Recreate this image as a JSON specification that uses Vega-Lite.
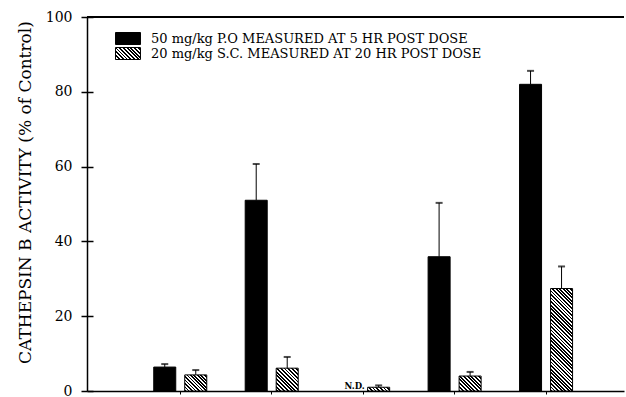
{
  "$schema": "https://vega.github.io/schema/vega-lite/v6.json",
  "width": 537,
  "height": 374,
  "autosize": {"type": "none"},
  "padding": {"left": 87, "top": 17, "right": 2, "bottom": 6},
  "config": {
    "view": {"stroke": null},
    "font": "DejaVu Serif"
  },
  "data": {
    "values": [
      {"group": "1", "route": "P.O", "series": "50 mg/kg P.O MEASURED AT 5 HR POST DOSE", "value": 6.4, "upper": 7.2},
      {"group": "1", "route": "S.C.", "series": "20 mg/kg S.C. MEASURED AT 20 HR POST DOSE", "value": 4.3, "upper": 5.6},
      {"group": "2", "route": "P.O", "series": "50 mg/kg P.O MEASURED AT 5 HR POST DOSE", "value": 51.0, "upper": 60.7},
      {"group": "2", "route": "S.C.", "series": "20 mg/kg S.C. MEASURED AT 20 HR POST DOSE", "value": 6.1, "upper": 9.1},
      {"group": "3", "route": "P.O", "series": "50 mg/kg P.O MEASURED AT 5 HR POST DOSE", "value": null, "upper": null, "note": "N.D."},
      {"group": "3", "route": "S.C.", "series": "20 mg/kg S.C. MEASURED AT 20 HR POST DOSE", "value": 1.0, "upper": 1.5},
      {"group": "4", "route": "P.O", "series": "50 mg/kg P.O MEASURED AT 5 HR POST DOSE", "value": 35.9, "upper": 50.3},
      {"group": "4", "route": "S.C.", "series": "20 mg/kg S.C. MEASURED AT 20 HR POST DOSE", "value": 4.0, "upper": 5.1},
      {"group": "5", "route": "P.O", "series": "50 mg/kg P.O MEASURED AT 5 HR POST DOSE", "value": 82.0, "upper": 85.6},
      {"group": "5", "route": "S.C.", "series": "20 mg/kg S.C. MEASURED AT 20 HR POST DOSE", "value": 27.4, "upper": 33.3}
    ]
  },
  "encoding": {
    "x": {
      "field": "group",
      "type": "nominal",
      "scale": {"domain": ["1", "2", "3", "4", "5"], "paddingInner": 0, "paddingOuter": 0.436, "align": 0.596},
      "axis": {"title": null, "labels": false, "tickSize": 3, "tickColor": "#000", "tickWidth": 1, "domainColor": "#000", "domainWidth": 1.5}
    },
    "xOffset": {
      "field": "series",
      "type": "nominal",
      "scale": {"domain": ["50 mg/kg P.O MEASURED AT 5 HR POST DOSE", "20 mg/kg S.C. MEASURED AT 20 HR POST DOSE"], "paddingInner": 0.29, "paddingOuter": 0.62}
    }
  },
  "layer": [
    {
      "mark": {"type": "rule", "color": "#000", "strokeWidth": 1.5},
      "encoding": {"x": null, "xOffset": null, "y": {"datum": 100, "type": "quantitative", "axis": null}}
    },
    {
      "mark": {"type": "bar", "stroke": "#000", "strokeWidth": 1},
      "encoding": {
        "y": {
          "field": "value",
          "type": "quantitative",
          "scale": {"domain": [0, 100], "nice": false},
          "axis": {
            "orient": "left",
            "values": [0, 20, 40, 60, 80, 100],
            "grid": false,
            "tickSize": 6,
            "tickWidth": 1.5,
            "tickColor": "#000",
            "domainColor": "#000",
            "domainWidth": 1.5,
            "labelFont": "DejaVu Serif",
            "labelFontSize": 14,
            "labelColor": "#000",
            "labelPadding": 9,
            "title": "CATHEPSIN B ACTIVITY (% of Control)",
            "titleFont": "DejaVu Serif",
            "titleFontSize": 17,
            "titleFontWeight": "normal",
            "titleColor": "#000",
            "titlePadding": 11,
            "titleY": 175
          }
        },
        "fill": {
          "field": "series",
          "type": "nominal",
          "scale": {
            "domain": ["50 mg/kg P.O MEASURED AT 5 HR POST DOSE", "20 mg/kg S.C. MEASURED AT 20 HR POST DOSE"],
            "range": [
              "#000",
              {"expr": "{gradient: 'linear', x1: 0, y1: 1, x2: 1.2029, y2: 0.4226, stops: [{offset: 0.05, color: '#000'}, {offset: 0.05, color: '#fff'}, {offset: 0.1, color: '#fff'}, {offset: 0.1, color: '#000'}, {offset: 0.15, color: '#000'}, {offset: 0.15, color: '#fff'}, {offset: 0.2, color: '#fff'}, {offset: 0.2, color: '#000'}, {offset: 0.25, color: '#000'}, {offset: 0.25, color: '#fff'}, {offset: 0.3, color: '#fff'}, {offset: 0.3, color: '#000'}, {offset: 0.35, color: '#000'}, {offset: 0.35, color: '#fff'}, {offset: 0.4, color: '#fff'}, {offset: 0.4, color: '#000'}, {offset: 0.45, color: '#000'}, {offset: 0.45, color: '#fff'}, {offset: 0.5, color: '#fff'}, {offset: 0.5, color: '#000'}, {offset: 0.55, color: '#000'}, {offset: 0.55, color: '#fff'}, {offset: 0.6, color: '#fff'}, {offset: 0.6, color: '#000'}, {offset: 0.65, color: '#000'}, {offset: 0.65, color: '#fff'}, {offset: 0.7, color: '#fff'}, {offset: 0.7, color: '#000'}, {offset: 0.75, color: '#000'}, {offset: 0.75, color: '#fff'}, {offset: 0.8, color: '#fff'}, {offset: 0.8, color: '#000'}, {offset: 0.85, color: '#000'}, {offset: 0.85, color: '#fff'}, {offset: 0.9, color: '#fff'}, {offset: 0.9, color: '#000'}, {offset: 0.95, color: '#000'}, {offset: 0.95, color: '#fff'}]}"}
            ]
          },
          "legend": {
            "title": null,
            "orient": "none",
            "legendX": 34.5,
            "legendY": 15,
            "padding": 0,
            "rowPadding": -4,
            "labelFont": "DejaVu Serif",
            "labelFontSize": 13,
            "labelColor": "#000",
            "labelOffset": 16.5,
            "labelLimit": 500,
            "symbolType": "M-2.08,-1H2.08V1H-2.08Z",
            "symbolSize": 144,
            "symbolStrokeWidth": 1,
            "symbolStrokeColor": "#000"
          },
          "condition": [
            {"test": "datum.route === 'S.C.' && datum.group === '1'", "value": {"gradient": "linear", "x1": 0, "y1": 1, "x2": 1.1282, "y2": 0.1754, "stops": [
              {"offset": 0.0455, "color": "#000"}, {"offset": 0.0455, "color": "#fff"},
              {"offset": 0.0909, "color": "#fff"}, {"offset": 0.0909, "color": "#000"},
              {"offset": 0.1364, "color": "#000"}, {"offset": 0.1364, "color": "#fff"},
              {"offset": 0.1818, "color": "#fff"}, {"offset": 0.1818, "color": "#000"},
              {"offset": 0.2273, "color": "#000"}, {"offset": 0.2273, "color": "#fff"},
              {"offset": 0.2727, "color": "#fff"}, {"offset": 0.2727, "color": "#000"},
              {"offset": 0.3182, "color": "#000"}, {"offset": 0.3182, "color": "#fff"},
              {"offset": 0.3636, "color": "#fff"}, {"offset": 0.3636, "color": "#000"},
              {"offset": 0.4091, "color": "#000"}, {"offset": 0.4091, "color": "#fff"},
              {"offset": 0.4545, "color": "#fff"}, {"offset": 0.4545, "color": "#000"},
              {"offset": 0.5, "color": "#000"}, {"offset": 0.5, "color": "#fff"},
              {"offset": 0.5455, "color": "#fff"}, {"offset": 0.5455, "color": "#000"},
              {"offset": 0.5909, "color": "#000"}, {"offset": 0.5909, "color": "#fff"},
              {"offset": 0.6364, "color": "#fff"}, {"offset": 0.6364, "color": "#000"},
              {"offset": 0.6818, "color": "#000"}, {"offset": 0.6818, "color": "#fff"},
              {"offset": 0.7273, "color": "#fff"}, {"offset": 0.7273, "color": "#000"},
              {"offset": 0.7727, "color": "#000"}, {"offset": 0.7727, "color": "#fff"},
              {"offset": 0.8182, "color": "#fff"}, {"offset": 0.8182, "color": "#000"},
              {"offset": 0.8636, "color": "#000"}, {"offset": 0.8636, "color": "#fff"},
              {"offset": 0.9091, "color": "#fff"}, {"offset": 0.9091, "color": "#000"},
              {"offset": 0.9545, "color": "#000"}, {"offset": 0.9545, "color": "#fff"}
            ]}},
            {"test": "datum.route === 'S.C.' && datum.group === '2'", "value": {"gradient": "linear", "x1": 0, "y1": 1, "x2": 0.9816, "y2": -0.0177, "stops": [
              {"offset": 0.0417, "color": "#000"}, {"offset": 0.0417, "color": "#fff"},
              {"offset": 0.0833, "color": "#fff"}, {"offset": 0.0833, "color": "#000"},
              {"offset": 0.125, "color": "#000"}, {"offset": 0.125, "color": "#fff"},
              {"offset": 0.1667, "color": "#fff"}, {"offset": 0.1667, "color": "#000"},
              {"offset": 0.2083, "color": "#000"}, {"offset": 0.2083, "color": "#fff"},
              {"offset": 0.25, "color": "#fff"}, {"offset": 0.25, "color": "#000"},
              {"offset": 0.2917, "color": "#000"}, {"offset": 0.2917, "color": "#fff"},
              {"offset": 0.3333, "color": "#fff"}, {"offset": 0.3333, "color": "#000"},
              {"offset": 0.375, "color": "#000"}, {"offset": 0.375, "color": "#fff"},
              {"offset": 0.4167, "color": "#fff"}, {"offset": 0.4167, "color": "#000"},
              {"offset": 0.4583, "color": "#000"}, {"offset": 0.4583, "color": "#fff"},
              {"offset": 0.5, "color": "#fff"}, {"offset": 0.5, "color": "#000"},
              {"offset": 0.5417, "color": "#000"}, {"offset": 0.5417, "color": "#fff"},
              {"offset": 0.5833, "color": "#fff"}, {"offset": 0.5833, "color": "#000"},
              {"offset": 0.625, "color": "#000"}, {"offset": 0.625, "color": "#fff"},
              {"offset": 0.6667, "color": "#fff"}, {"offset": 0.6667, "color": "#000"},
              {"offset": 0.7083, "color": "#000"}, {"offset": 0.7083, "color": "#fff"},
              {"offset": 0.75, "color": "#fff"}, {"offset": 0.75, "color": "#000"},
              {"offset": 0.7917, "color": "#000"}, {"offset": 0.7917, "color": "#fff"},
              {"offset": 0.8333, "color": "#fff"}, {"offset": 0.8333, "color": "#000"},
              {"offset": 0.875, "color": "#000"}, {"offset": 0.875, "color": "#fff"},
              {"offset": 0.9167, "color": "#fff"}, {"offset": 0.9167, "color": "#000"},
              {"offset": 0.9583, "color": "#000"}, {"offset": 0.9583, "color": "#fff"}
            ]}},
            {"test": "datum.route === 'S.C.' && datum.group === '3'", "value": {"gradient": "linear", "x1": 0, "y1": 1, "x2": 1.1371, "y2": 0.8067, "stops": [
              {"offset": 0.0714, "color": "#000"}, {"offset": 0.0714, "color": "#fff"},
              {"offset": 0.1429, "color": "#fff"}, {"offset": 0.1429, "color": "#000"},
              {"offset": 0.2143, "color": "#000"}, {"offset": 0.2143, "color": "#fff"},
              {"offset": 0.2857, "color": "#fff"}, {"offset": 0.2857, "color": "#000"},
              {"offset": 0.3571, "color": "#000"}, {"offset": 0.3571, "color": "#fff"},
              {"offset": 0.4286, "color": "#fff"}, {"offset": 0.4286, "color": "#000"},
              {"offset": 0.5, "color": "#000"}, {"offset": 0.5, "color": "#fff"},
              {"offset": 0.5714, "color": "#fff"}, {"offset": 0.5714, "color": "#000"},
              {"offset": 0.6429, "color": "#000"}, {"offset": 0.6429, "color": "#fff"},
              {"offset": 0.7143, "color": "#fff"}, {"offset": 0.7143, "color": "#000"},
              {"offset": 0.7857, "color": "#000"}, {"offset": 0.7857, "color": "#fff"},
              {"offset": 0.8571, "color": "#fff"}, {"offset": 0.8571, "color": "#000"},
              {"offset": 0.9286, "color": "#000"}, {"offset": 0.9286, "color": "#fff"}
            ]}},
            {"test": "datum.route === 'S.C.' && datum.group === '4'", "value": {"gradient": "linear", "x1": 0, "y1": 1, "x2": 1.1488, "y2": 0.2188, "stops": [
              {"offset": 0.05, "color": "#000"}, {"offset": 0.05, "color": "#fff"},
              {"offset": 0.1, "color": "#fff"}, {"offset": 0.1, "color": "#000"},
              {"offset": 0.15, "color": "#000"}, {"offset": 0.15, "color": "#fff"},
              {"offset": 0.2, "color": "#fff"}, {"offset": 0.2, "color": "#000"},
              {"offset": 0.25, "color": "#000"}, {"offset": 0.25, "color": "#fff"},
              {"offset": 0.3, "color": "#fff"}, {"offset": 0.3, "color": "#000"},
              {"offset": 0.35, "color": "#000"}, {"offset": 0.35, "color": "#fff"},
              {"offset": 0.4, "color": "#fff"}, {"offset": 0.4, "color": "#000"},
              {"offset": 0.45, "color": "#000"}, {"offset": 0.45, "color": "#fff"},
              {"offset": 0.5, "color": "#fff"}, {"offset": 0.5, "color": "#000"},
              {"offset": 0.55, "color": "#000"}, {"offset": 0.55, "color": "#fff"},
              {"offset": 0.6, "color": "#fff"}, {"offset": 0.6, "color": "#000"},
              {"offset": 0.65, "color": "#000"}, {"offset": 0.65, "color": "#fff"},
              {"offset": 0.7, "color": "#fff"}, {"offset": 0.7, "color": "#000"},
              {"offset": 0.75, "color": "#000"}, {"offset": 0.75, "color": "#fff"},
              {"offset": 0.8, "color": "#fff"}, {"offset": 0.8, "color": "#000"},
              {"offset": 0.85, "color": "#000"}, {"offset": 0.85, "color": "#fff"},
              {"offset": 0.9, "color": "#fff"}, {"offset": 0.9, "color": "#000"},
              {"offset": 0.95, "color": "#000"}, {"offset": 0.95, "color": "#fff"}
            ]}},
            {"test": "datum.route === 'S.C.' && datum.group === '5'", "value": {"gradient": "linear", "x1": 0, "y1": 1, "x2": 0.2493, "y2": -0.1612, "stops": [
              {"offset": 0.0143, "color": "#000"}, {"offset": 0.0143, "color": "#fff"},
              {"offset": 0.0286, "color": "#fff"}, {"offset": 0.0286, "color": "#000"},
              {"offset": 0.0429, "color": "#000"}, {"offset": 0.0429, "color": "#fff"},
              {"offset": 0.0571, "color": "#fff"}, {"offset": 0.0571, "color": "#000"},
              {"offset": 0.0714, "color": "#000"}, {"offset": 0.0714, "color": "#fff"},
              {"offset": 0.0857, "color": "#fff"}, {"offset": 0.0857, "color": "#000"},
              {"offset": 0.1, "color": "#000"}, {"offset": 0.1, "color": "#fff"},
              {"offset": 0.1143, "color": "#fff"}, {"offset": 0.1143, "color": "#000"},
              {"offset": 0.1286, "color": "#000"}, {"offset": 0.1286, "color": "#fff"},
              {"offset": 0.1429, "color": "#fff"}, {"offset": 0.1429, "color": "#000"},
              {"offset": 0.1571, "color": "#000"}, {"offset": 0.1571, "color": "#fff"},
              {"offset": 0.1714, "color": "#fff"}, {"offset": 0.1714, "color": "#000"},
              {"offset": 0.1857, "color": "#000"}, {"offset": 0.1857, "color": "#fff"},
              {"offset": 0.2, "color": "#fff"}, {"offset": 0.2, "color": "#000"},
              {"offset": 0.2143, "color": "#000"}, {"offset": 0.2143, "color": "#fff"},
              {"offset": 0.2286, "color": "#fff"}, {"offset": 0.2286, "color": "#000"},
              {"offset": 0.2429, "color": "#000"}, {"offset": 0.2429, "color": "#fff"},
              {"offset": 0.2571, "color": "#fff"}, {"offset": 0.2571, "color": "#000"},
              {"offset": 0.2714, "color": "#000"}, {"offset": 0.2714, "color": "#fff"},
              {"offset": 0.2857, "color": "#fff"}, {"offset": 0.2857, "color": "#000"},
              {"offset": 0.3, "color": "#000"}, {"offset": 0.3, "color": "#fff"},
              {"offset": 0.3143, "color": "#fff"}, {"offset": 0.3143, "color": "#000"},
              {"offset": 0.3286, "color": "#000"}, {"offset": 0.3286, "color": "#fff"},
              {"offset": 0.3429, "color": "#fff"}, {"offset": 0.3429, "color": "#000"},
              {"offset": 0.3571, "color": "#000"}, {"offset": 0.3571, "color": "#fff"},
              {"offset": 0.3714, "color": "#fff"}, {"offset": 0.3714, "color": "#000"},
              {"offset": 0.3857, "color": "#000"}, {"offset": 0.3857, "color": "#fff"},
              {"offset": 0.4, "color": "#fff"}, {"offset": 0.4, "color": "#000"},
              {"offset": 0.4143, "color": "#000"}, {"offset": 0.4143, "color": "#fff"},
              {"offset": 0.4286, "color": "#fff"}, {"offset": 0.4286, "color": "#000"},
              {"offset": 0.4429, "color": "#000"}, {"offset": 0.4429, "color": "#fff"},
              {"offset": 0.4571, "color": "#fff"}, {"offset": 0.4571, "color": "#000"},
              {"offset": 0.4714, "color": "#000"}, {"offset": 0.4714, "color": "#fff"},
              {"offset": 0.4857, "color": "#fff"}, {"offset": 0.4857, "color": "#000"},
              {"offset": 0.5, "color": "#000"}, {"offset": 0.5, "color": "#fff"},
              {"offset": 0.5143, "color": "#fff"}, {"offset": 0.5143, "color": "#000"},
              {"offset": 0.5286, "color": "#000"}, {"offset": 0.5286, "color": "#fff"},
              {"offset": 0.5429, "color": "#fff"}, {"offset": 0.5429, "color": "#000"},
              {"offset": 0.5571, "color": "#000"}, {"offset": 0.5571, "color": "#fff"},
              {"offset": 0.5714, "color": "#fff"}, {"offset": 0.5714, "color": "#000"},
              {"offset": 0.5857, "color": "#000"}, {"offset": 0.5857, "color": "#fff"},
              {"offset": 0.6, "color": "#fff"}, {"offset": 0.6, "color": "#000"},
              {"offset": 0.6143, "color": "#000"}, {"offset": 0.6143, "color": "#fff"},
              {"offset": 0.6286, "color": "#fff"}, {"offset": 0.6286, "color": "#000"},
              {"offset": 0.6429, "color": "#000"}, {"offset": 0.6429, "color": "#fff"},
              {"offset": 0.6571, "color": "#fff"}, {"offset": 0.6571, "color": "#000"},
              {"offset": 0.6714, "color": "#000"}, {"offset": 0.6714, "color": "#fff"},
              {"offset": 0.6857, "color": "#fff"}, {"offset": 0.6857, "color": "#000"},
              {"offset": 0.7, "color": "#000"}, {"offset": 0.7, "color": "#fff"},
              {"offset": 0.7143, "color": "#fff"}, {"offset": 0.7143, "color": "#000"},
              {"offset": 0.7286, "color": "#000"}, {"offset": 0.7286, "color": "#fff"},
              {"offset": 0.7429, "color": "#fff"}, {"offset": 0.7429, "color": "#000"},
              {"offset": 0.7571, "color": "#000"}, {"offset": 0.7571, "color": "#fff"},
              {"offset": 0.7714, "color": "#fff"}, {"offset": 0.7714, "color": "#000"},
              {"offset": 0.7857, "color": "#000"}, {"offset": 0.7857, "color": "#fff"},
              {"offset": 0.8, "color": "#fff"}, {"offset": 0.8, "color": "#000"},
              {"offset": 0.8143, "color": "#000"}, {"offset": 0.8143, "color": "#fff"},
              {"offset": 0.8286, "color": "#fff"}, {"offset": 0.8286, "color": "#000"},
              {"offset": 0.8429, "color": "#000"}, {"offset": 0.8429, "color": "#fff"},
              {"offset": 0.8571, "color": "#fff"}, {"offset": 0.8571, "color": "#000"},
              {"offset": 0.8714, "color": "#000"}, {"offset": 0.8714, "color": "#fff"},
              {"offset": 0.8857, "color": "#fff"}, {"offset": 0.8857, "color": "#000"},
              {"offset": 0.9, "color": "#000"}, {"offset": 0.9, "color": "#fff"},
              {"offset": 0.9143, "color": "#fff"}, {"offset": 0.9143, "color": "#000"},
              {"offset": 0.9286, "color": "#000"}, {"offset": 0.9286, "color": "#fff"},
              {"offset": 0.9429, "color": "#fff"}, {"offset": 0.9429, "color": "#000"},
              {"offset": 0.9571, "color": "#000"}, {"offset": 0.9571, "color": "#fff"},
              {"offset": 0.9714, "color": "#fff"}, {"offset": 0.9714, "color": "#000"},
              {"offset": 0.9857, "color": "#000"}, {"offset": 0.9857, "color": "#fff"}
            ]}}
          ]
        }
      }
    },
    {
      "mark": {"type": "rule", "color": "#000", "strokeWidth": 1},
      "encoding": {
        "y": {
          "field": "value",
          "type": "quantitative",
          "axis": {
            "orient": "left",
            "values": [0, 20, 40, 60, 80, 100],
            "grid": false,
            "tickSize": -6,
            "tickWidth": 1.5,
            "tickColor": "#000",
            "domain": false,
            "labels": false,
            "title": null
          }
        },
        "y2": {"field": "upper"}
      }
    },
    {
      "mark": {"type": "tick", "color": "#000", "size": 7, "thickness": 2},
      "encoding": {
        "y": {"field": "upper", "type": "quantitative", "axis": null}
      }
    },
    {
      "transform": [{"filter": "datum.note != null"}],
      "mark": {"type": "text", "font": "DejaVu Serif", "fontWeight": "bold", "fontSize": 8.5, "color": "#000", "baseline": "alphabetic", "align": "center", "dx": 7, "dy": -2},
      "encoding": {
        "y": {"datum": 0, "type": "quantitative", "axis": null},
        "text": {"field": "note"}
      }
    }
  ],
  "resolve": {"axis": {"y": "independent"}}
}
